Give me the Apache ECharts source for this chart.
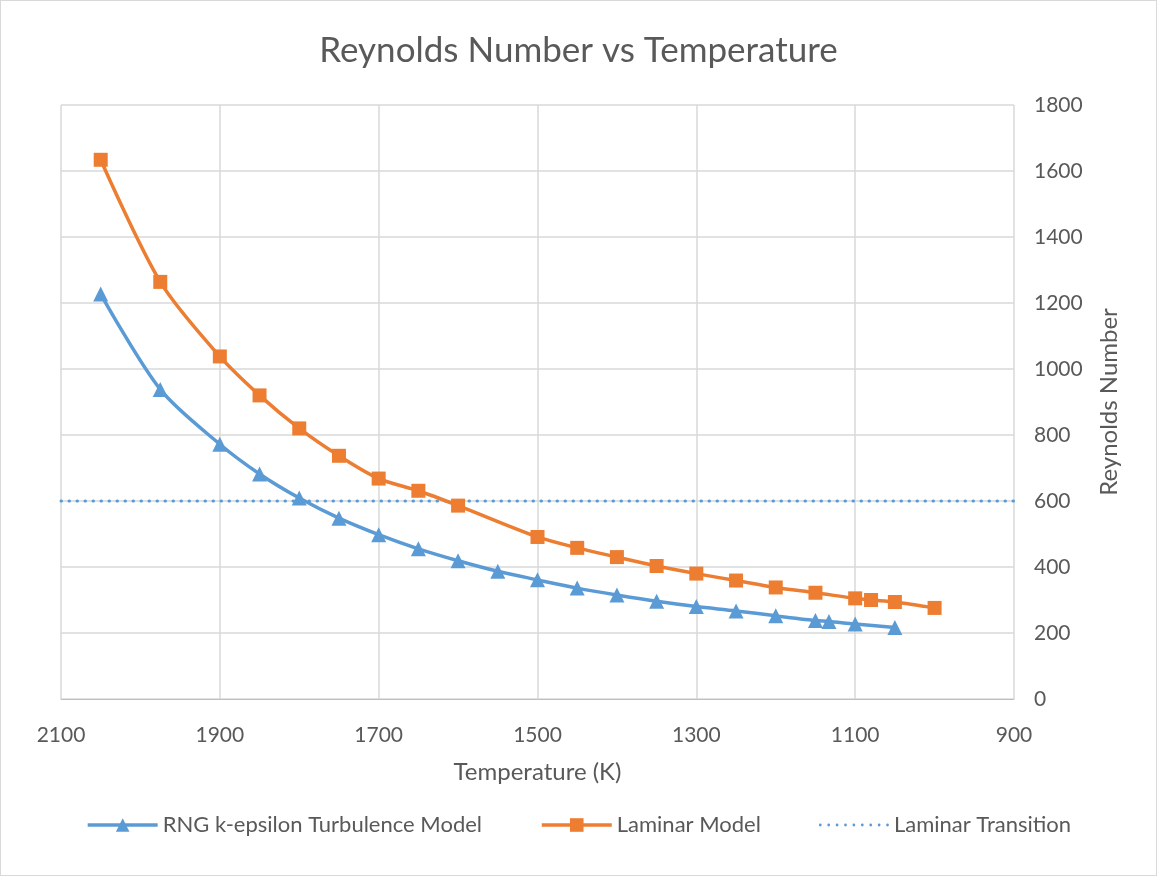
<!DOCTYPE html>
<html>
<head>
<meta charset="utf-8">
<script src="https://cdn.jsdelivr.net/npm/echarts@6/dist/echarts.min.js"></script>
<style>
  html, body { margin: 0; padding: 0; background: #fff; }
  #chart { width: 1155px; height: 874px; border: 1px solid #d9d9d9; }
</style>
</head>
<body>
<div id="chart"></div>
<script>
// temperatures (K) and Reynolds numbers
var rngTemps = [2050, 1975, 1900, 1850, 1800, 1750, 1700, 1650, 1600, 1550, 1500, 1450, 1400, 1350, 1300, 1250, 1200, 1150, 1133, 1100, 1050];
var rngRe = [1227, 938, 772, 682, 609, 548, 498, 455, 419, 387, 361, 336, 315, 296, 280, 267, 252, 238, 235, 227, 217];

var lamTemps = [2050, 1975, 1900, 1850, 1800, 1750, 1700, 1650, 1600, 1500, 1450, 1400, 1350, 1300, 1250, 1200, 1150, 1100, 1080, 1050, 1000];
var lamRe = [1634, 1264, 1038, 920, 820, 737, 668, 631, 586, 491, 458, 430, 403, 380, 359, 338, 322, 305, 300, 294, 276];

var transTemps = [2100, 900];
var transRe = [600, 600];

function pairs(xs, ys) {
  return xs.map(function (x, i) { return [x, ys[i]]; });
}

// dotted legend icon: a row of small dots
function dotsPath(n, step, r) {
  var p = "path://";
  for (var i = 0; i < n; i++) {
    var cx = i * step;
    p += "M" + (cx - r) + "," + r + "a" + r + "," + r + " 0 1,0 " + 2 * r + ",0a" + r + "," + r + " 0 1,0 " + -2 * r + ",0";
  }
  return p;
}

var textColor = "#595959";
var font = "Lato";

var chart = echarts.init(document.getElementById("chart"));
chart.setOption({
  animation: false,
  textStyle: { fontFamily: font },
  title: {
    text: "Reynolds Number vs Temperature",
    left: "center",
    top: 27,
    textStyle: { fontFamily: font, fontSize: 35, fontWeight: "normal", color: textColor },
  },
  grid: { left: 60, right: 142, top: 104, bottom: 176 },
  legend: {
    bottom: 34,
    left: "center",
    itemWidth: 70,
    itemHeight: 17,
    itemGap: 58,
    lineStyle: { width: 3.5 },
    textStyle: { fontFamily: font, fontSize: 22, color: textColor },
    data: [
      "RNG k-epsilon Turbulence Model",
      "Laminar Model",
      { name: "Laminar Transition", icon: dotsPath(9, 8.5, 1.4), itemStyle: { color: "#5b9bd5" } },
    ],
  },
  xAxis: {
    type: "value",
    inverse: true,
    min: 900,
    max: 2100,
    interval: 200,
    name: "Temperature (K)",
    nameLocation: "middle",
    nameGap: 61,
    nameTextStyle: { fontFamily: font, fontSize: 24, color: textColor },
    axisLine: { show: true, lineStyle: { color: "#bfbfbf", width: 1 } },
    axisTick: { show: false },
    axisLabel: { fontFamily: font, fontSize: 21, color: textColor, margin: 26, formatter: function (v) { return String(v); } },
    splitLine: { show: true, lineStyle: { color: "#d9d9d9", width: 1.5 } },
  },
  yAxis: {
    type: "value",
    position: "right",
    min: 0,
    max: 1800,
    interval: 200,
    name: "Reynolds Number",
    nameLocation: "middle",
    nameGap: 83,
    nameRotate: 90,
    nameTextStyle: { fontFamily: font, fontSize: 24, color: textColor },
    axisLine: { show: false },
    axisTick: { show: false },
    axisLabel: { fontFamily: font, fontSize: 21, color: textColor, margin: 20, formatter: function (v) { return String(v); } },
    splitLine: { show: true, lineStyle: { color: "#d9d9d9", width: 1.5 } },
  },
  series: [
    {
      name: "RNG k-epsilon Turbulence Model",
      type: "line",
      smooth: 0.3,
      data: pairs(rngTemps, rngRe),
      symbol: "triangle",
      symbolSize: 15,
      itemStyle: { color: "#5b9bd5" },
      lineStyle: { color: "#5b9bd5", width: 3.5 },
      z: 3,
    },
    {
      name: "Laminar Model",
      type: "line",
      smooth: 0.3,
      data: pairs(lamTemps, lamRe),
      symbol: "rect",
      symbolSize: 14,
      itemStyle: { color: "#ed7d31" },
      lineStyle: { color: "#ed7d31", width: 3.5 },
      z: 3,
    },
    {
      name: "Laminar Transition",
      type: "line",
      data: pairs(transTemps, transRe),
      symbol: "none",
      itemStyle: { color: "#5b9bd5" },
      lineStyle: { color: "#5b9bd5", width: 3, type: [0.5, 7.5], cap: "round" },
      z: 2,
    },
  ],
});
</script>
</body>
</html>
